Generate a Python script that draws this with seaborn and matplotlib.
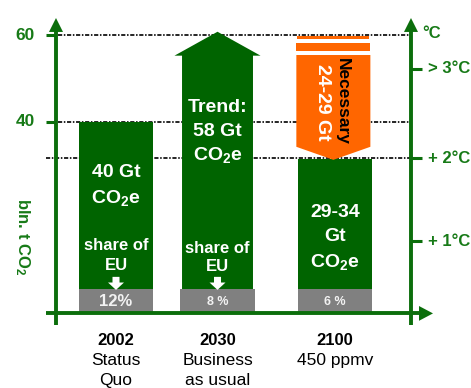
import numpy as np
import pandas as pd
import matplotlib
matplotlib.use("Agg")
import matplotlib.pyplot as plt
from matplotlib.patches import Polygon
import seaborn as sns

# ---------------- data ----------------
years = ["2002", "2030", "2100"]
scenarios = [("Status", "Quo"), ("Business", "as usual"), ("450 ppmv", "")]
emissions_low = [40, 58, 29]      # Gt CO2e
emissions_high = [40, 58, 34]
eu_share = ["12%", "8 %", "6 %"]
reduction = [24, 29]              # Gt CO2e still to cut
y_ticks = [40, 60]
temp_labels = ["+ 1°C", "+ 2°C", "> 3°C"]

# ---------------- style / layout ----------------
sns.set_theme(style="white")
plt.rcParams["font.family"] = ["Liberation Sans", "DejaVu Sans"]
plt.rcParams["mathtext.fontset"] = "custom"
plt.rcParams["mathtext.rm"] = "Liberation Sans:bold"
plt.rcParams["mathtext.it"] = "Liberation Sans:bold"
plt.rcParams["mathtext.bf"] = "Liberation Sans:bold"
plt.rcParams["mathtext.default"] = "rm"
plt.rcParams["lines.scale_dashes"] = False

BAR_GREEN = "#006400"
AXIS_GREEN = "#0b6e0b"
TEXT_GREEN = "#177a17"
BAND_GRAY = "#808080"
ORANGE = "#ff6600"
CO2E = "CO$_2$e"

x_pos = [0.0, 0.927, 2.0]
bar_w = 0.676
temp_levels = [12.6, 31.7, 52.2]
x_left, x_right = -0.548, 2.694      # positions of the two vertical axes
base_y = -4.0                         # level of the horizontal axis
band_top = 1.6
dash = (0, (3.0, 1.2, 1.1, 1.2))

values = [(lo + hi) / 2 for lo, hi in zip(emissions_low, emissions_high)]

fig = plt.figure(figsize=(4.71, 3.88), dpi=100)
ax = fig.add_axes([0, 0, 1, 1])

# rectangular emission bars (2002, 2100)
bars = pd.DataFrame({"pos": [x_pos[0], x_pos[2]],
                     "value": [values[0], values[2]]})
sns.barplot(data=bars, x="pos", y="value", native_scale=True,
            width=bar_w / (x_pos[2] - x_pos[0]), color=BAR_GREEN,
            saturation=1, ax=ax, zorder=3, linewidth=0)

# 2030 trend drawn as an upward arrow whose head is centred on the value
head = 5.5
bw, hw = 0.324, 0.393
cx, v = x_pos[1], values[1]
ax.add_patch(Polygon([(cx - bw, 0), (cx - bw, v - head / 2), (cx - hw, v - head / 2),
                      (cx, v + head / 2), (cx + hw, v - head / 2),
                      (cx + bw, v - head / 2), (cx + bw, 0)],
                     closed=True, facecolor=BAR_GREEN, edgecolor="none", zorder=3))

# grey EU-share bands at the bottom of each bar
for x, s in zip(x_pos, eu_share):
    ax.bar(x, band_top - base_y, width=bar_w, bottom=base_y,
           color=BAND_GRAY, zorder=4, linewidth=0)
    big = s == "12%"
    ax.text(x, (band_top + base_y) / 2 - 0.1, s, ha="center", va="center",
            color="#f2f2f2", fontsize=12 if big else 9, fontweight="bold", zorder=5)

# white pointers from "share of EU" into the band
for x in x_pos[:2]:
    ax.add_patch(Polygon([(x - 0.032, band_top + 2.8), (x - 0.032, band_top + 1.5),
                          (x - 0.073, band_top + 1.5), (x, band_top - 0.2),
                          (x + 0.073, band_top + 1.5), (x + 0.032, band_top + 1.5),
                          (x + 0.032, band_top + 2.8)],
                         closed=True, facecolor="white", edgecolor="none", zorder=5))

# required reduction: orange downward arrow from the 60 line to the 2100 level
ox, ow = x_pos[2] - 0.015, bar_w / 2
top, tip = max(y_ticks), values[2] - 0.2
ax.add_patch(Polygon([(ox - ow + 0.01, top - 0.25), (ox + ow - 0.01, top - 0.25),
                      (ox + ow - 0.01, top - 0.95), (ox - ow + 0.01, top - 0.95)],
                     facecolor=ORANGE, edgecolor="none", zorder=4))
ax.add_patch(Polygon([(ox - ow, top - 1.85), (ox + ow, top - 1.85),
                      (ox + ow, top - 3.7), (ox - ow, top - 3.7)],
                     facecolor=ORANGE, edgecolor="none", zorder=4))
ax.add_patch(Polygon([(ox - ow, top - 4.6), (ox + ow, top - 4.6),
                      (ox + ow, tip + 3.0), (ox, tip), (ox - ow, tip + 3.0)],
                     facecolor=ORANGE, edgecolor="none", zorder=4))
ax.text(ox + 0.085, 44.7, "Necessary", rotation=270, ha="center", va="center",
        fontsize=12.5, fontweight="bold", color="black", zorder=6)
ax.text(ox - 0.10, 44.6, f"{reduction[0]}-{reduction[1]} Gt", rotation=270,
        ha="center", va="center", fontsize=14, fontweight="bold",
        color="white", zorder=6)

# dash-dot reference lines
for yv in y_ticks:
    ax.plot([x_left + 0.02, x_right], [yv, yv], color="black", lw=1.2,
            linestyle=dash, zorder=1)
ax.plot([-0.64, x_right], [temp_levels[1]] * 2, color="black", lw=1.2,
        linestyle=dash, zorder=1)

# axes with arrow heads
lw_ax = 2.8
ax.plot([x_left, x_left], [-6.7, 61.0], color=AXIS_GREEN, lw=lw_ax,
        solid_capstyle="butt", zorder=7)
ax.add_patch(Polygon([(x_left - 0.064, 60.7), (x_left, 63.9), (x_left + 0.064, 60.7)],
                     facecolor=AXIS_GREEN, edgecolor="none", zorder=7))
ax.plot([x_right, x_right], [-6.7, 61.0], color=AXIS_GREEN, lw=lw_ax,
        solid_capstyle="butt", zorder=7)
ax.add_patch(Polygon([(x_right - 0.064, 60.7), (x_right, 63.9), (x_right + 0.064, 60.7)],
                     facecolor=AXIS_GREEN, edgecolor="none", zorder=7))
ax.plot([-0.64, 2.78], [base_y, base_y], color=AXIS_GREEN, lw=lw_ax,
        solid_capstyle="butt", zorder=7)
ax.add_patch(Polygon([(2.767, base_y + 1.7), (2.895, base_y), (2.767, base_y - 1.7)],
                     facecolor=AXIS_GREEN, edgecolor="none", zorder=7))

# left ticks and labels
for yv in y_ticks:
    ax.plot([x_left - 0.091, x_left], [yv, yv], color=AXIS_GREEN, lw=2.2,
            solid_capstyle="butt", zorder=7)
    ax.text(-0.83, yv, str(yv), ha="center", va="center", fontsize=12.5,
            fontweight="bold", color=TEXT_GREEN)
ax.text(-0.858, 13.6, "bln. t CO$_2$", rotation=270, ha="center",
        va="center", fontsize=12, fontweight="bold", color=TEXT_GREEN)

# right temperature ticks and labels
for yv, lab in zip(temp_levels, temp_labels):
    ax.plot([x_right, x_right + 0.1], [yv, yv], color=AXIS_GREEN, lw=2.2,
            solid_capstyle="butt", zorder=7)
    ax.text(2.85, yv, lab, ha="left", va="center", fontsize=12,
            fontweight="bold", color=TEXT_GREEN)
ax.text(2.88, 60.4, "°C", ha="center", va="center", fontsize=12,
        fontweight="bold", color=TEXT_GREEN)

# labels inside the bars
big = dict(ha="center", va="center", fontsize=14, fontweight="bold",
           color="white", zorder=6)
small = dict(ha="center", va="center", fontsize=12, fontweight="bold",
             color="white", zorder=6)
ax.text(x_pos[0], 28.3, f"{values[0]:.0f} Gt", **big)
ax.text(x_pos[0], 22.5, CO2E, **big)
ax.text(x_pos[1], 43.4, "Trend:", **big)
ax.text(x_pos[1], 37.9, f"{values[1]:.0f} Gt", **big)
ax.text(x_pos[1], 32.4, CO2E, **big)
ax.text(x_pos[2], 19.3, f"{emissions_low[2]}-{emissions_high[2]}", **big)
ax.text(x_pos[2], 13.6, "Gt", **big)
ax.text(x_pos[2], 7.8, CO2E, **big)
for x, ys in zip(x_pos[:2], [(11.7, 6.9), (11.0, 6.7)]):
    ax.text(x, ys[0], "share of", **small)
    ax.text(x, ys[1], "EU", **small)

# category labels below the axis
for x, yr, (l1, l2) in zip(x_pos, years, scenarios):
    ax.text(x, -10.2, yr, ha="center", va="center", fontsize=12,
            fontweight="bold", color="black")
    ax.text(x, -14.8, l1, ha="center", va="center", fontsize=12.5, color="black")
    ax.text(x, -19.4, l2, ha="center", va="center", fontsize=12.5, color="black")

ax.set_xlim(-116 / 109.5, 355 / 109.5)
ax.set_ylim(40 - 266 / 4.35, 40 + 122 / 4.35)
ax.axis("off")

fig.savefig("out.png", dpi=100)
